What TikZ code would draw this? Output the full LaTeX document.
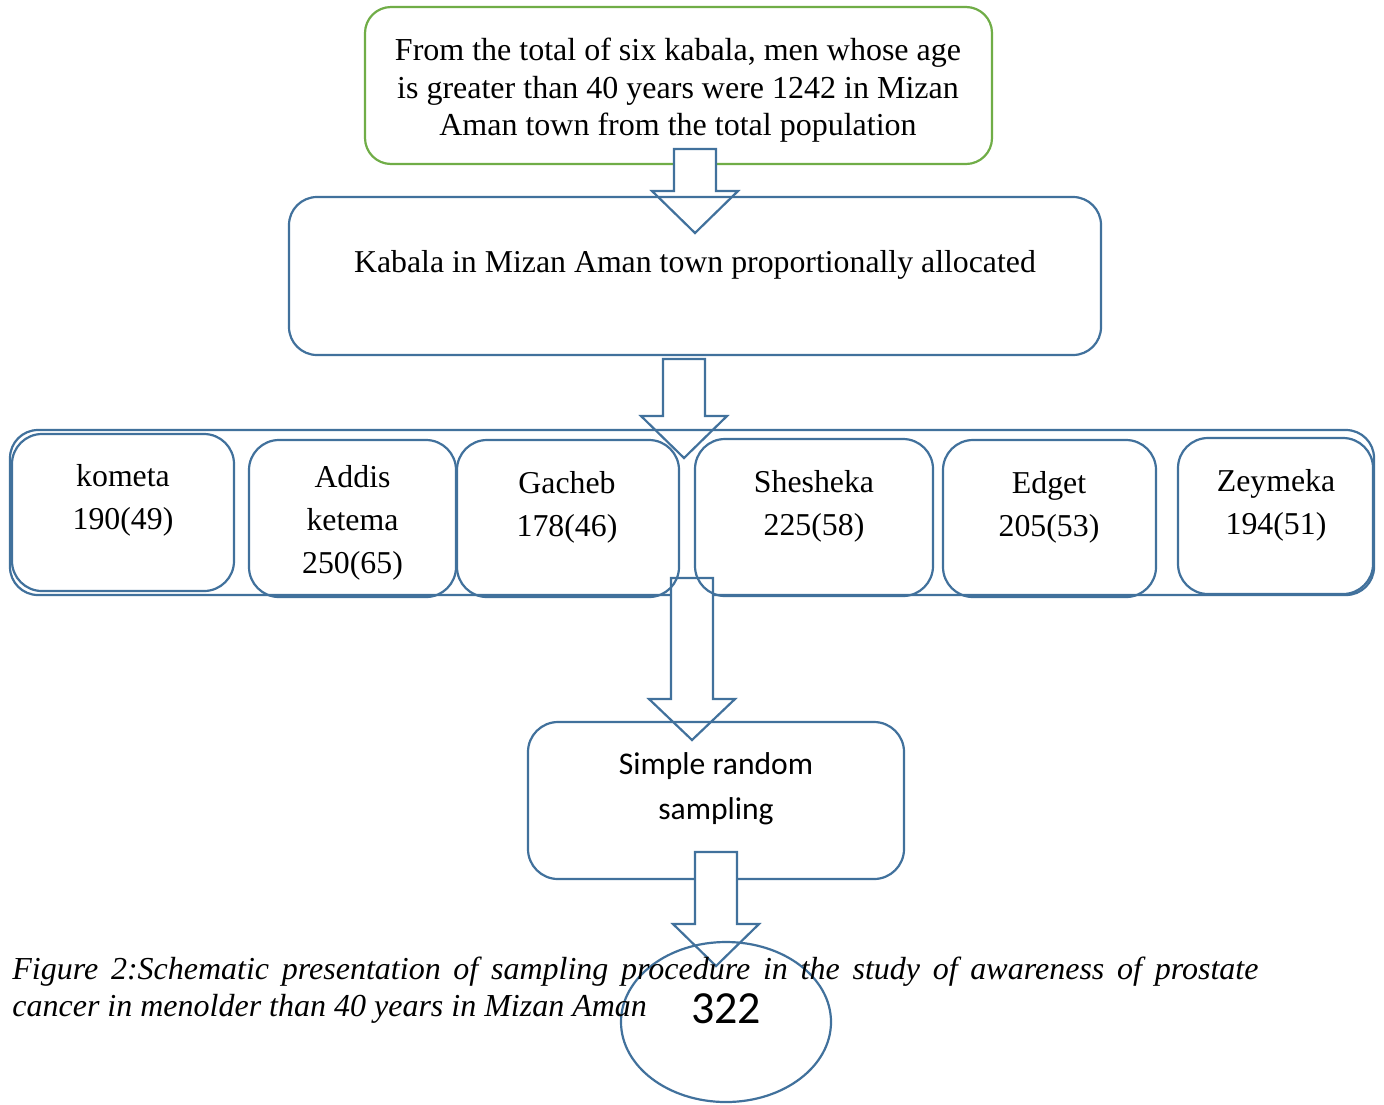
\documentclass[tikz,border=0pt]{standalone}
\usepackage{fontspec}
\setmainfont{Liberation Serif}
\newfontfamily\calib{Carlito}
\usetikzlibrary{shapes.geometric}
\definecolor{bl}{RGB}{65,113,156}
\definecolor{gr}{RGB}{112,173,71}
\newcommand\barrow[3]{\draw[arr] (#1) ++(-21,0) -- ++(42,0) -- ++(0,#2) -- ++(22,0) -- ++(-43,#3) -- ++(-43,-#3) -- ++(22,0) -- cycle;}
\begin{document}
\begin{tikzpicture}[x=0.5pt,y=-0.5pt,
  box/.style={draw=bl, line width=1.1pt, rounded corners=15pt, inner sep=0pt},
  arr/.style={draw=bl, line width=1.1pt, fill=white, line join=miter},
  txt/.style={font=\fontsize{15.9}{21.5}\selectfont, align=center, inner sep=0pt}]
\fill[white] (0,0) rectangle (1384,1104);
\useasboundingbox (0,0) rectangle (1384,1104);
% top box
\node[box, draw=gr, rounded corners=13pt, minimum width=313.5pt, minimum height=78.5pt] (top) at (678.5,85.5) {};
\node[txt, font=\fontsize{16}{18.75}\selectfont] (toptxt) at (678,90.5) {From the total of six kabala, men whose age\\ is greater than 40 years were 1242 in Mizan\\ Aman town from the total population};
\coordinate (a1) at (695,149);
\barrow{a1}{42}{42}
% second box
\node[box, rounded corners=14pt, minimum width=406pt, minimum height=79pt] (alloc) at (695,276) {};
\node[txt] (alloctxt) at (695,265) {Kabala in Mizan Aman town proportionally allocated};
\coordinate (a2) at (684,359);
\barrow{a2}{57}{42}
% container
\node[box, rounded corners=14pt, minimum width=682pt, minimum height=82.5pt] (row) at (692,512.5) {};
\coordinate (a3) at (692,578);
\barrow{a3}{121}{41}
% kabala boxes
\node[box, minimum width=111pt, minimum height=78.5pt] (k1) at (123,512.5) {};
\node[txt] (k1t) at (123,500.5) {kometa\\190(49)};
\node[box, minimum width=103.5pt, minimum height=78.5pt] (k2) at (352.5,518.5) {};
\node[txt] (k2t) at (352.5,523) {Addis\\ketema\\250(65)};
\node[box, minimum width=111pt, minimum height=78.5pt] (k3) at (568,518.5) {};
\node[txt] (k3t) at (567,507.5) {Gacheb\\178(46)};
\node[box, minimum width=119pt, minimum height=78.5pt] (k4) at (814,517.5) {};
\node[txt] (k4t) at (814,506) {Shesheka\\225(58)};
\node[box, minimum width=106.5pt, minimum height=78.5pt] (k5) at (1049.5,518.5) {};
\node[txt] (k5t) at (1049,507.5) {Edget\\205(53)};
\node[box, minimum width=97.5pt, minimum height=78pt] (k6) at (1275.5,516) {};
\node[txt] (k6t) at (1276,505) {Zeymeka\\194(51)};
% simple random sampling
\node[box, minimum width=188pt, minimum height=78.5pt] (srs) at (716,800.5) {};
\node[txt, font=\calib\fontsize{15.8}{22.5}\selectfont] (srst) at (716,788.5) {Simple random\\sampling};
\coordinate (a4) at (716,852);
\barrow{a4}{72}{42}
% ellipse
\node[ellipse, draw=bl, line width=1.1pt, inner sep=0pt, minimum width=105pt, minimum height=80pt] (res) at (726,1022) {};
\node[inner sep=0pt, font=\calib\fontsize{23}{27}\selectfont] (rest) at (726,1009) {322};
% caption
\node[anchor=base west, inner sep=0pt, font=\itshape\fontsize{16}{18.5}\selectfont] (cap1) at (12,979) {\makebox[623pt][s]{Figure 2:Schematic presentation of sampling procedure in the study of awareness of prostate}};
\node[anchor=base west, inner sep=0pt, font=\itshape\fontsize{16}{18.5}\selectfont] (cap2) at (12,1016) {cancer in menolder than 40 years in Mizan Aman};
\end{tikzpicture}
\end{document}
